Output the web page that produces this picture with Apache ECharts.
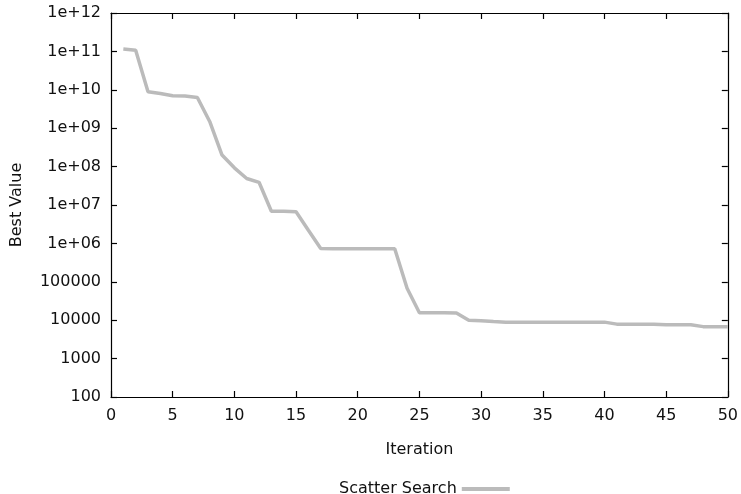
<!DOCTYPE html>
<html>
<head>
<meta charset="utf-8">
<script src="https://cdn.jsdelivr.net/npm/echarts@6/dist/echarts.min.js"></script>
<style>
  html, body { margin: 0; padding: 0; background: #fff; }
  #chart { width: 741px; height: 494px; }
</style>
</head>
<body>
<div id="chart"></div>
<script>
// Iteration numbers and best value found
const iterations = [1, 2, 3, 4, 5, 6, 7, 8, 9, 10,
  11, 12, 13, 14, 15, 16, 17, 18, 19, 20,
  21, 22, 23, 24, 25, 26, 27, 28, 29, 30,
  31, 32, 33, 34, 35, 36, 37, 38, 39, 40,
  41, 42, 43, 44, 45, 46, 47, 48, 49, 50];
const bestValues = [1.15e11, 1.07e11, 8.9e9, 8.0e9, 7.0e9, 6.9e9, 6.3e9, 1.5e9, 2.0e8, 9.3e7,
  4.9e7, 3.9e7, 6.9e6, 6.9e6, 6.7e6, 2.2e6, 7.4e5, 7.3e5, 7.3e5, 7.3e5,
  7.3e5, 7.3e5, 7.3e5, 6.8e4, 1.57e4, 1.56e4, 1.56e4, 1.55e4, 1.0e4, 9.7e3,
  9.2e3, 8.9e3, 8.9e3, 8.9e3, 8.9e3, 8.9e3, 8.9e3, 8.9e3, 8.9e3, 8.9e3,
  7.9e3, 7.9e3, 7.9e3, 7.8e3, 7.6e3, 7.6e3, 7.6e3, 6.8e3, 6.8e3, 6.8e3];
// y tick labels, one per decade from 1e2 to 1e12
const yTickLabels = ['100', '1000', '10000', '100000', '1e+06', '1e+07',
  '1e+08', '1e+09', '1e+10', '1e+11', '1e+12'];
const seriesName = 'Scatter Search';

const FONT = 'DejaVu Sans';
const FS = 16;
const chart = echarts.init(document.getElementById('chart'));

const axisCommon = {
  axisLine: { show: true, onZero: false, lineStyle: { color: '#000', width: 1.2 } },
  axisTick: { show: true, inside: true, length: 6, lineStyle: { color: '#000', width: 1.2 } },
  splitLine: { show: false },
};

const yLabel = (v) => {
  const e = Math.round(Math.log10(v));
  return yTickLabels[e - 2] ?? '';
};

chart.setOption({
  backgroundColor: '#fff',
  animation: false,
  textStyle: { fontFamily: FONT },
  grid: { left: 111, right: 13, top: 13, bottom: 97, show: false },
  legend: {
    top: 476,
    left: 334,
    align: 'right',
    icon: 'rect',
    itemWidth: 48,
    itemHeight: 4,
    itemGap: 10,
    textStyle: { fontFamily: FONT, fontSize: FS, color: '#111' },
    data: [seriesName],
  },
  xAxis: [
    {
      ...axisCommon,
      type: 'value', position: 'bottom',
      min: 0, max: 50, interval: 5,
      name: 'Iteration', nameLocation: 'middle', nameGap: 45,
      nameTextStyle: { fontFamily: FONT, fontSize: FS, color: '#111' },
      axisLabel: { color: '#111', fontSize: FS, fontFamily: FONT, margin: 11 },
    },
    {
      ...axisCommon,
      type: 'value', position: 'top',
      min: 0, max: 50, interval: 5,
      axisLabel: { show: false },
    },
  ],
  yAxis: [
    {
      ...axisCommon,
      type: 'log', logBase: 10, position: 'left',
      min: 100, max: 1e12, splitNumber: 10, interval: 1,
      name: 'Best Value', nameLocation: 'middle', nameGap: 86,
      nameTextStyle: { fontFamily: FONT, fontSize: FS, color: '#111' },
      axisLabel: { color: '#111', fontSize: FS, fontFamily: FONT, margin: 10, formatter: yLabel },
    },
    {
      ...axisCommon,
      type: 'log', logBase: 10, position: 'right',
      min: 100, max: 1e12, splitNumber: 10, interval: 1,
      axisLabel: { show: false },
    },
  ],
  series: [
    {
      name: seriesName,
      type: 'line',
      data: iterations.map((it, i) => [it, bestValues[i]]),
      symbol: 'none',
      lineStyle: { color: '#bbbbbb', width: 3.5 },
      itemStyle: { color: '#bbbbbb' },
    },
  ],
});
</script>
</body>
</html>
